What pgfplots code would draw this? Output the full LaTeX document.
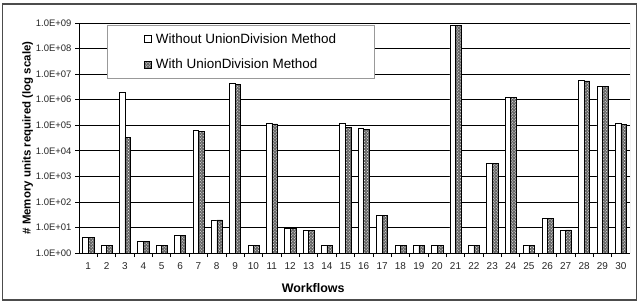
\documentclass[border=0pt]{standalone}
\usepackage{pgfplots}
\pgfplotsset{compat=1.18}
\usepackage{fontspec}
\setmainfont{Liberation Sans}
\usetikzlibrary{patterns}
\begin{document}
\begin{tikzpicture}[x=1bp,y=1bp]
\useasboundingbox (0,0) rectangle (639,-303);
\draw[black!70, line width=1.5bp] (2.5,-4) rectangle (636.5,-300);
\begin{axis}[
  at={(79bp,-253bp)}, anchor=south west,
  scale only axis, width=551bp, height=230bp,
  ymode=log, ymin=1, ymax=1e9, log origin=infty,
  xmin=0.5, xmax=30.5,
  ybar=0pt, bar width=5.6bp,
  xtick={1,...,30},
  /pgf/number format/assume math mode=true,
  minor xtick={1.5,2.5,...,29.5},
  major x tick style={draw=none},
  minor tick length=4bp,
  major tick length=4bp,
  tick align=outside,
  ytick={1,10,100,1000,1e4,1e5,1e6,1e7,1e8,1e9},
  yticklabels={1.0E+00,1.0E+01,1.0E+02,1.0E+03,1.0E+04,1.0E+05,1.0E+06,1.0E+07,1.0E+08,1.0E+09},
  yminorticks=false,
  ymajorgrids, grid style={black, line width=0.7bp},
  axis x line*=bottom, axis y line*=left,
  axis line style={black, line width=0.8bp, -},
  tick style={black, line width=0.7bp},
  ticklabel style={font=\fontsize{9.5}{11}\selectfont, text=black!85},
  xticklabel style={font=\fontsize{10}{12}\selectfont, yshift=-2bp},
  xlabel={\textbf{Workflows}},
  xlabel style={font=\fontsize{12.5}{14}\selectfont, at={(axis description cs:0.425,0)}, anchor=center, yshift=-35bp},
  ylabel={\textbf{\# Memory units required (log scale)}},
  ylabel style={font=\fontsize{11.5}{13}\selectfont, yshift=-4bp},
  legend style={at={(0.051,0.991)}, anchor=north west, draw=black!40, line width=0.8bp,
    font=\fontsize{13.5}{15}\selectfont, inner xsep=36bp, inner ysep=6bp, row sep=10bp,
    /tikz/every odd column/.append style={column sep=3bp}},
  legend cell align=left,
  legend image code/.code={\draw[#1, line width=0.5bp] (0bp,-3.5bp) rectangle (7bp,3.5bp);},
]
\addplot[draw=black, line width=0.5bp, fill=white] coordinates {
(1,4) (2,2) (3,1.9e6) (4,2.9) (5,2) (6,5) (7,6.5e4) (8,20) (9,4.2e6) (10,2)
(11,1.15e5) (12,9.5) (13,7.8) (14,2) (15,1.15e5) (16,7.3e4) (17,29) (18,2) (19,2) (20,2)
(21,8.5e8) (22,2) (23,3.3e3) (24,1.3e6) (25,2) (26,22) (27,8) (28,5.6e6) (29,3.5e6) (30,1.2e5)
};
\addplot[draw=black, line width=0.5bp, fill=black!60, postaction={pattern=crosshatch dots, pattern color=white}] coordinates {
(1,4) (2,2) (3,3.3e4) (4,2.9) (5,2) (6,5) (7,5.9e4) (8,20) (9,4.0e6) (10,2)
(11,1.12e5) (12,9.5) (13,7.8) (14,2) (15,8.5e4) (16,7.1e4) (17,29) (18,2) (19,2) (20,2)
(21,8.3e8) (22,2) (23,3.3e3) (24,1.25e6) (25,2) (26,22) (27,8) (28,5.5e6) (29,3.4e6) (30,1.1e5)
};
\legend{Without UnionDivision Method, With UnionDivision Method}
\draw[black!40, line width=0.8bp] (rel axis cs:1,0) -- (rel axis cs:1,1);
\end{axis}
\end{tikzpicture}
\end{document}
